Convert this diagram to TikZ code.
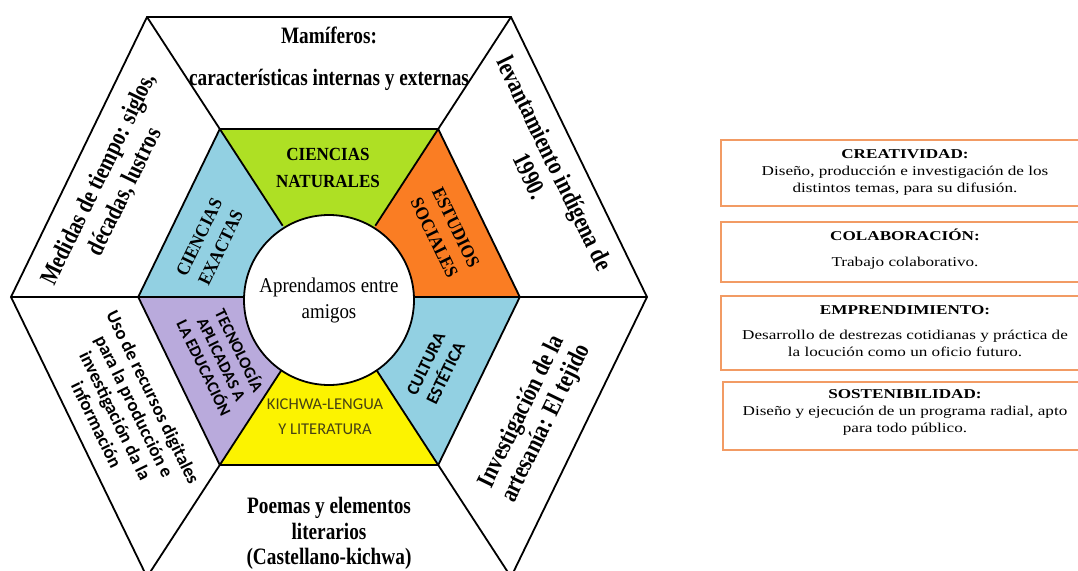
\documentclass[tikz,border=0pt]{standalone}
\usepackage{fontspec}
\usepackage{graphicx}
\setmainfont{Liberation Serif}
\newfontfamily\calfont{Carlito}
\usetikzlibrary{calc}
\definecolor{cgreen}{RGB}{174,224,36}
\definecolor{corange}{RGB}{250,125,35}
\definecolor{cblue}{RGB}{146,208,226}
\definecolor{cpurple}{RGB}{185,170,220}
\definecolor{cyellow}{RGB}{252,243,0}
\definecolor{cborder}{RGB}{242,155,100}
\definecolor{ckich}{RGB}{70,66,20}
\newcommand{\fsz}[2]{\fontsize{#1}{#2}\selectfont}
\newcommand{\cond}[2]{\scalebox{#1}[1]{\begin{tabular}{@{}c@{}}#2\end{tabular}}}
\begin{document}
\begin{tikzpicture}[x=1pt,y=-1pt,
  hexline/.style={line width=1.8pt, line join=miter},
  boxline/.style={draw=cborder, line width=1.5pt},
  outertext/.style={align=center, inner sep=0pt},
  sanstext/.style={align=center, inner sep=0pt},
  boxtext/.style={align=center, inner sep=0pt, font=\fsz{13.5}{17}}]
\useasboundingbox (0,0) rectangle (1078,570);
\clip (0,0) rectangle (1078,570);
\fill[white] (0,0) rectangle (1078,570);
% geometry
\coordinate (c) at (329,297);
\coordinate (o1) at (147,17);
\coordinate (o2) at (511,17);
\coordinate (o3) at (647,297);
\coordinate (o4) at (511,577);
\coordinate (o5) at (147,577);
\coordinate (o6) at (11,297);
\foreach \i in {1,...,6} {
  \coordinate (i\i) at ($(c)!0.6!(o\i)$);
  \coordinate (k\i) at ($(c)!85pt!(o\i)$);
}
% sectors
\fill[cgreen]  (c)--(i1)--(i2)--cycle;
\fill[corange] (c)--(i2)--(i3)--cycle;
\fill[cblue]   (c)--(i3)--(i4)--cycle;
\fill[cyellow] (c)--(i4)--(i5)--cycle;
\fill[cpurple] (c)--(i5)--(i6)--cycle;
\fill[cblue]   (c)--(i6)--(i1)--cycle;
% lines
\draw[hexline] (o1)--(o2)--(o3)--(o4)--(o5)--(o6)--cycle;
\draw[hexline] (i1)--(i2)--(i3)--(i4)--(i5)--(i6)--cycle;
\foreach \i in {1,...,6} \draw[hexline] (o\i)--(k\i);
\node[circle, draw, fill=white, line width=1.8pt, minimum size=170pt, inner sep=0pt,
      font=\fsz{21}{26}] (ctr) at (329,300) {\cond{0.9}{Aprendamos entre\\amigos}};
% outer texts
\node[outertext, font=\bfseries\fsz{23.5}{28}, anchor=base] (tmam) at (329,43) {\scalebox{0.82}[1]{Mamíferos:}};
\node[outertext, font=\bfseries\fsz{23.5}{28}, anchor=base] (tcar) at (329,85) {\scalebox{0.82}[1]{características internas y externas}};
\node[outertext, font=\bfseries\fsz{25}{29}, rotate=64] (tmed) at (113,186) {\cond{0.82}{Medidas de tiempo: siglos,\\décadas, lustros}};
\node[outertext, font=\bfseries\fsz{25.5}{28}, rotate=-64] (tlev) at (540,171) {\cond{0.82}{levantamiento indígena de\\1990.}};
\node[sanstext, font=\calfont\bfseries\fsz{18.5}{21}, rotate=-64] (tuso) at (123,412) {\cond{1}{Uso de recursos digitales\\para la producción e\\investigación da la\\información}};
\node[outertext, font=\bfseries\fsz{25.5}{27}, rotate=64] (tinv) at (535,418) {\cond{0.82}{Investigación de la\\artesanía: El tejido}};
\node[outertext, font=\bfseries\fsz{23.5}{25.5}] (tpoe) at (329,534) {\cond{0.82}{Poemas y elementos\\literarios\\(Castellano-kichwa)}};
% inner texts
\node[outertext, font=\bfseries\fsz{18.5}{27}] (tcn) at (328,169) {\cond{0.92}{CIENCIAS\\NATURALES}};
\node[outertext, font=\bfseries\fsz{18.5}{24}, rotate=64] (tce) at (211,243) {\cond{0.92}{CIENCIAS\\EXACTAS}};
\node[outertext, font=\bfseries\fsz{18.5}{24}, rotate=-64] (tes) at (444,233) {\cond{0.92}{ESTUDIOS\\SOCIALES}};
\node[sanstext, font=\calfont\bfseries\fsz{16.5}{19.5}, rotate=-64] (ttec) at (220,360) {\cond{1}{TECNOLOGÍA\\APLICADAS A\\LA EDUCACIÓN}};
\node[sanstext, font=\calfont\fsz{16.5}{25}, text=ckich] (tkic) at (325,417) {\cond{1}{KICHWA-LENGUA\\Y LITERATURA}};
\node[sanstext, font=\calfont\bfseries\fsz{17.5}{22}, rotate=64] (tcul) at (437,369) {\cond{1}{CULTURA\\ESTÉTICA}};
% right boxes
\draw[boxline] (721,140) rectangle (1090,206);
\draw[boxline] (721,222) rectangle (1090,282);
\draw[boxline] (721,296) rectangle (1090,370);
\draw[boxline] (723,382) rectangle (1090,450);
\node[boxtext] (b1) at (905,172) {\cond{1.27}{\textbf{CREATIVIDAD:}\\Diseño, producción e investigación de los\\distintos temas, para su difusión.}};
\node[boxtext] (b2) at (905,250) {\cond{1.27}{\textbf{COLABORACIÓN:}\\[9pt]Trabajo colaborativo.}};
\node[boxtext] (b3) at (905,332) {\cond{1.27}{\textbf{EMPRENDIMIENTO:}\\[8pt]Desarrollo de destrezas cotidianas y práctica de\\la locución como un oficio futuro.}};
\node[boxtext] (b4) at (905,412) {\cond{1.27}{\textbf{SOSTENIBILIDAD:}\\Diseño y ejecución de un programa radial, apto\\para todo público.}};
\end{tikzpicture}
\end{document}
